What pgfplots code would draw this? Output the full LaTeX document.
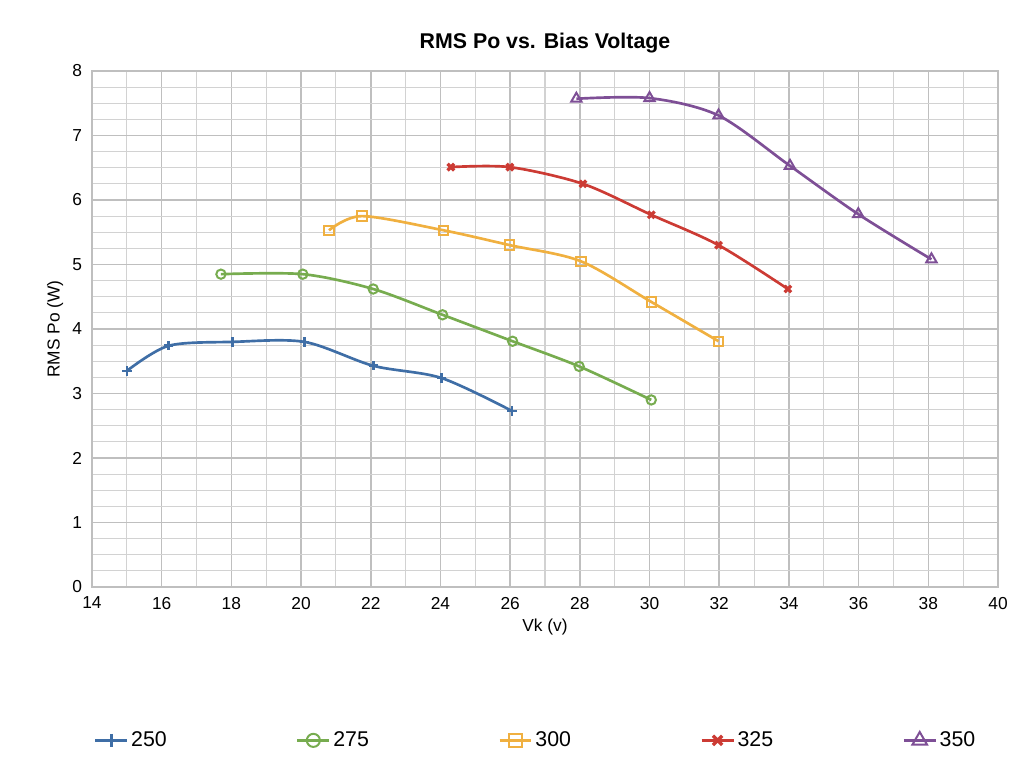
\documentclass[border=0pt]{standalone}
\usepackage{pgfplots}
\pgfplotsset{compat=1.18}
\usepackage{fontspec}
\setmainfont{Liberation Sans}
\definecolor{cA}{HTML}{3F6EA6}
\definecolor{cB}{HTML}{77AC4F}
\definecolor{cC}{HTML}{F0B040}
\definecolor{cD}{HTML}{CC3B34}
\definecolor{cE}{HTML}{7E4F96}
\begin{document}
\begin{tikzpicture}
\useasboundingbox (-69pt,-142.5pt) rectangle (699pt,440.25pt);
\begin{axis}[
  at={(0,0)}, anchor=south west,
  width=679.5pt, height=387pt, scale only axis,
  xmin=14, xmax=40, ymin=0, ymax=8,
  xtick={14,16,...,40}, ytick={0,1,...,8},
  minor x tick num=1, minor y tick num=3,
  grid=both,
  major grid style={gray!50, line width=1.2pt},
  minor grid style={gray!35, line width=0.8pt},
  axis line style={gray!50, line width=1.2pt},
  tick style={draw=none},
  ticklabel style={font=\fontsize{13}{15}\selectfont},
  xticklabel style={yshift=-4pt},
  yticklabel style={xshift=-4pt},
  /pgf/number format/assume math mode=true,
  xlabel={Vk (v)}, ylabel={RMS Po (W)},
  label style={font=\fontsize{13}{15}\selectfont},
  title={\bfseries RMS Po vs. Bias Voltage},
  title style={font=\fontsize{16}{18}\selectfont, yshift=4pt},
  legend style={at={(0.49,-0.27)}, anchor=north, draw=none, font=\fontsize{16}{18}\selectfont,
    /tikz/every even column/.append style={column sep=95pt}},
  legend columns=5,
  legend image post style={scale=1.4},
  every axis plot/.append style={line width=2pt, smooth, tension=0.5, mark size=3.5pt},
]
\addplot[cA, mark=+, mark options={line width=2pt}] coordinates {(15.0,3.35)(16.2,3.74)(18.03,3.80)(20.1,3.80)(22.07,3.43)(24.03,3.24)(26.05,2.73)};
\addlegendentry{250}
\addplot[cB, mark=o, mark options={line width=1.5pt}] coordinates {(17.7,4.85)(20.05,4.85)(22.07,4.62)(24.06,4.22)(26.07,3.81)(27.98,3.42)(30.05,2.90)};
\addlegendentry{275}
\addplot[cC, mark=square, mark options={line width=1.5pt}] coordinates {(20.8,5.53)(21.75,5.75)(24.09,5.53)(25.99,5.30)(28.03,5.05)(30.05,4.42)(31.98,3.81)};
\addlegendentry{300}
\addplot[cD, mark=x, mark options={line width=2.5pt}] coordinates {(24.3,6.51)(25.99,6.51)(28.09,6.25)(30.05,5.77)(31.98,5.30)(33.97,4.62)};
\addlegendentry{325}
\addplot[cE, mark=triangle, mark options={line width=1.5pt}, mark size=4.5pt] coordinates {(27.9,7.57)(30.0,7.58)(31.98,7.31)(34.03,6.53)(35.99,5.78)(38.09,5.08)};
\addlegendentry{350}
\end{axis}
\end{tikzpicture}
\end{document}
